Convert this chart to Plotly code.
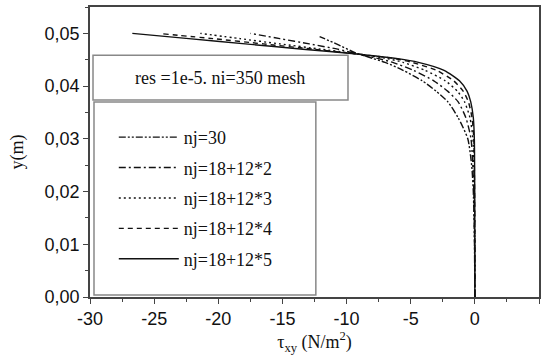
import plotly.graph_objects as go

# Data (tau_xy in N/m^2, y in m)
names = ["nj=30", "nj=18+12*2", "nj=18+12*3", "nj=18+12*4", "nj=18+12*5"]

y_nj30 = [0, 0.01, 0.02, 0.025, 0.03, 0.034, 0.037, 0.039, 0.041, 0.043, 0.0445, 0.0455, 0.0463, 0.048, 0.0494]
t_nj30 = [0, -0.03, -0.12, -0.25, -0.55, -1.3, -2.1, -3.0, -4.1, -5.6, -7.0, -8.3, -9.3, -10.8, -12.1]

y_grid = [0, 0.01, 0.02, 0.03, 0.034, 0.037, 0.039, 0.041, 0.043, 0.0445, 0.0452, 0.0461, 0.047, 0.048, 0.049, 0.050]
t_nj2 = [0, -0.02, -0.08, -0.3, -0.7, -1.3, -2.1, -3.2, -4.8, -6.4, -7.5, -9.2, -10.7, -12.9, -15.2, -17.5]
t_nj3 = [0, -0.01, -0.04, -0.15, -0.38, -0.8, -1.35, -2.3, -3.9, -5.6, -6.8, -9.2, -12.0, -15.2, -18.3, -21.4]
y_nj4 = [0, 0.01, 0.02, 0.03, 0.034, 0.037, 0.039, 0.041, 0.043, 0.0445, 0.0452, 0.0461, 0.047, 0.048, 0.049, 0.0499]
t_nj4 = [0, 0, -0.02, -0.08, -0.22, -0.5, -0.9, -1.65, -3.0, -4.9, -6.2, -9.2, -12.6, -16.5, -20.4, -24.3]
t_nj5 = [0, 0, -0.01, -0.04, -0.12, -0.32, -0.6, -1.2, -2.4, -4.4, -6.0, -9.2, -13.4, -17.9, -22.3, -26.7]

x_ticks = [-30, -25, -20, -15, -10, -5, 0, 5]
x_tick_labels = ["-30", "-25", "-20", "-15", "-10", "-5", "0", "5"]
y_ticks = [0.0, 0.01, 0.02, 0.03, 0.04, 0.05]
y_tick_labels = ["0,00", "0,01", "0,02", "0,03", "0,04", "0,05"]

series = [
    (names[0], t_nj30, y_nj30, "7px,2px,2px,2px,2px,2px"),
    (names[1], t_nj2, y_grid, "7px,3px,2px,3px"),
    (names[2], t_nj3, y_grid, "2px,3px"),
    (names[3], t_nj4, y_nj4, "5px,4px"),
    (names[4], t_nj5, y_grid, "solid"),
]

fig = go.Figure()
for i, (nm, tx, yy, dash) in enumerate(series):
    fig.add_trace(go.Scatter(
        x=tx, y=yy, mode="lines", name=nm, legendgroup=str(i),
        line=dict(color="#111111", width=1.4, dash=dash, shape="spline", smoothing=0.6),
    ))

serif = "Liberation Serif"
sans = "Liberation Sans"

fig.update_layout(
    width=544, height=358,
    margin=dict(l=90, r=5, t=7, b=61, autoexpand=False),
    paper_bgcolor="white", plot_bgcolor="white",
    showlegend=True,
    legend=dict(
        x=0.053, y=0.614, xanchor="left", yanchor="top",
        bgcolor="rgba(0,0,0,0)", borderwidth=0,
        font=dict(family=serif, size=18, color="#111"),
        itemwidth=60, tracegroupgap=4,
    ),
    xaxis=dict(
        range=[-30, 5], tickvals=x_ticks, ticktext=x_tick_labels, automargin=False,
        ticks="outside", ticklen=5, tickwidth=1.2, tickcolor="#444",
        showline=True, linecolor="#444", linewidth=1.5, mirror=True,
        showgrid=False, zeroline=False,
        tickfont=dict(family=sans, size=18, color="#111"),
        minor=dict(dtick=2.5, ticks="outside", ticklen=3, tickcolor="#444"),
        title=dict(text="τ<sub>xy</sub> (N/m<sup>2</sup>)", font=dict(family=serif, size=18, color="#111"), standoff=0),
    ),
    yaxis=dict(
        range=[0, 0.055], tickvals=y_ticks, ticktext=y_tick_labels, automargin=False,
        ticks="outside", ticklen=5, tickwidth=1.2, tickcolor="#444",
        showline=True, linecolor="#444", linewidth=1.5, mirror=True,
        showgrid=False, zeroline=False,
        tickfont=dict(family=sans, size=18, color="#111"),
        minor=dict(dtick=0.005, ticks="outside", ticklen=3, tickcolor="#444"),
        title=dict(text="y(m)", font=dict(family=serif, size=18, color="#111"), standoff=16),
    ),
    shapes=[
        dict(type="rect", xref="paper", yref="paper", x0=0.0067, x1=0.5746, y0=0.679, y1=0.834,
             line=dict(color="#888", width=1.5), fillcolor="white", layer="above"),
        dict(type="rect", xref="paper", yref="paper", x0=0.0089, x1=0.503, y0=0.0069, y1=0.672,
             line=dict(color="#888", width=1.5), fillcolor="rgba(0,0,0,0)", layer="above"),
    ],
    annotations=[
        dict(text="res =1e-5. ni=350 mesh", xref="paper", yref="paper", x=0.2906, y=0.755,
             xanchor="center", yanchor="middle",
             showarrow=False, font=dict(family=serif, size=18, color="#111")),
    ],
)

fig.write_html("out.html", config={"displayModeBar": False},
               post_script="document.body.style.margin='0';document.body.style.overflow='hidden';")
